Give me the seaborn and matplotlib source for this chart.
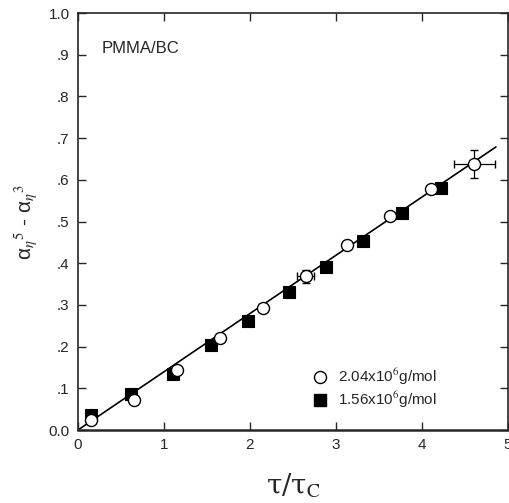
import numpy as np
import pandas as pd
import matplotlib
matplotlib.use("Agg")
import matplotlib.pyplot as plt
import seaborn as sns

# data
x_204 = [0.15, 0.65, 1.15, 1.65, 2.15, 2.65, 3.13, 3.63, 4.10, 4.61]
y_204 = [0.025, 0.073, 0.143, 0.220, 0.293, 0.369, 0.444, 0.514, 0.578, 0.638]

x_156 = [0.15, 0.62, 1.10, 1.55, 1.98, 2.45, 2.88, 3.32, 3.77, 4.22]
y_156 = [0.035, 0.086, 0.134, 0.203, 0.261, 0.331, 0.390, 0.453, 0.520, 0.580]

# error bars on two open-circle points
err_x = [2.65, 4.61]
err_y = [0.369, 0.638]
err_xerr = [0.10, 0.24]
err_yerr = [0.016, 0.033]

# fitted line
fit_x = [0.0, 4.86]
fit_y = [0.0, 0.679]

xticks = [0, 1, 2, 3, 4, 5]
yticks = [0.0, 0.1, 0.2, 0.3, 0.4, 0.5, 0.6, 0.7, 0.8, 0.9, 1.0]
ytick_labels = ["0.0", ".1", ".2", ".3", ".4", ".5", ".6", ".7", ".8", ".9", "1.0"]

sns.set_style("ticks")
plt.rcParams["font.family"] = ["Liberation Sans", "DejaVu Sans"]
plt.rcParams["mathtext.fontset"] = "stix"

fig = plt.figure(figsize=(5.09, 5.03), dpi=100)
ax = fig.add_axes([0.153, 0.145, 0.845, 0.829])

sns.lineplot(x=fit_x, y=fit_y, color="black", linewidth=1.2, ax=ax)

ax.errorbar(err_x, err_y, xerr=err_xerr, yerr=err_yerr, fmt="none",
            ecolor="black", elinewidth=0.9, capsize=3, zorder=2)

sns.scatterplot(x=x_156, y=y_156, marker="s", s=65, color="black",
                edgecolor="black", linewidth=0.8, ax=ax, zorder=3)
sns.scatterplot(x=x_204, y=y_204, marker="o", s=75, facecolor="white",
                edgecolor="black", linewidth=1.0, ax=ax, zorder=4)

ax.set_xlim(0, 5)
ax.set_ylim(0, 1.0)
ax.set_xticks(xticks)
ax.set_xticklabels([str(t) for t in xticks], fontsize=11)
ax.set_yticks(yticks)
ax.set_yticklabels(ytick_labels, fontsize=11)
ax.tick_params(direction="in", length=6, width=1, top=True, right=True,
               labeltop=False, labelright=False, pad=6)
for s in ax.spines.values():
    s.set_linewidth(1.2)
    s.set_visible(True)
ax.spines["bottom"].set_linewidth(1.8)

ax.set_xlabel("τ/τ$_{\\rm C}$", fontsize=20, labelpad=14,
              family=["DejaVu Serif"])
ax.set_ylabel("α$_η$$^{5}$ - α$_η$$^{3}$", fontsize=15, labelpad=6)

ax.text(0.28, 0.915, "PMMA/BC", fontsize=12, va="center")

# legend drawn by hand inside the axes
ax.scatter([2.81], [0.127], marker="o", s=75, facecolor="white",
           edgecolor="black", linewidth=1.0)
ax.text(3.02, 0.127, "2.04x10$^6$g/mol", fontsize=11, va="center")
ax.scatter([2.81], [0.073], marker="s", s=65, color="black")
ax.text(3.02, 0.073, "1.56x10$^6$g/mol", fontsize=11, va="center")

fig.savefig("out.png", dpi=100)
